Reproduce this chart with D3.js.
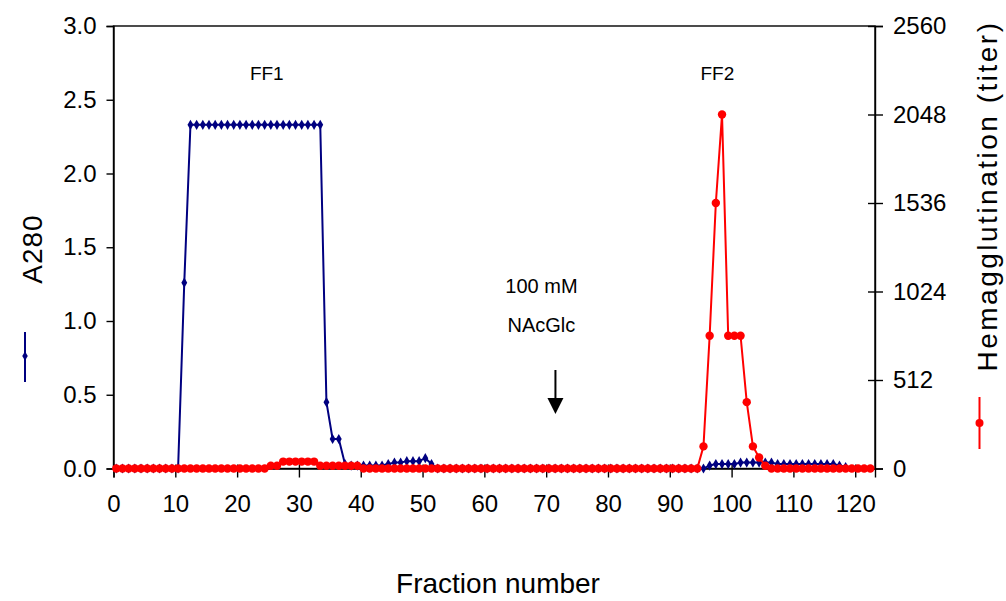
<!DOCTYPE html>
<html>
<head>
<meta charset="utf-8">
<script src="https://cdn.jsdelivr.net/npm/d3@7"></script>
<style>
  html, body { margin: 0; padding: 0; background: #fff; }
  svg { display: block; font-family: "Liberation Sans", Arial, sans-serif; }
</style>
</head>
<body>
<svg id="chart" width="1006" height="601"></svg>
<script>
// Absorbance at 280 nm, one value per fraction starting at fraction 0
const a280 = [
  0, 0, 0, 0, 0, 0, 0, 0, 0, 0,            // 0-9
  0, 1.26, 2.33, 2.33, 2.33, 2.33, 2.33, 2.33, 2.33, 2.33,   // 10-19
  2.33, 2.33, 2.33, 2.33, 2.33, 2.33, 2.33, 2.33, 2.33, 2.33, // 20-29
  2.33, 2.33, 2.33, 2.33, 0.45, 0.2, 0.2, 0.03, 0.02, 0.02,  // 30-39
  0.02, 0.02, 0.02, 0.02, 0.03, 0.04, 0.04, 0.05, 0.05, 0.05, // 40-49
  0.07, 0.03, 0, 0, 0, 0, 0, 0, 0, 0,      // 50-59
  0, 0, 0, 0, 0, 0, 0, 0, 0, 0,            // 60-69
  0, 0, 0, 0, 0, 0, 0, 0, 0, 0,            // 70-79
  0, 0, 0, 0, 0, 0, 0, 0, 0, 0,            // 80-89
  0, 0, 0, 0, 0, 0, 0.02, 0.03, 0.03, 0.03, // 90-99
  0.03, 0.04, 0.04, 0.04, 0.04, 0.04, 0.04, 0.03, 0.03, 0.03, // 100-109
  0.03, 0.03, 0.03, 0.03, 0.03, 0.03, 0.03, 0.02, 0.01        // 110-118
];

// Hemagglutination titer, one value per fraction starting at fraction 0
const titer = [
  0, 0, 0, 0, 0, 0, 0, 0, 0, 0,            // 0-9
  0, 0, 0, 0, 0, 0, 0, 0, 0, 0,            // 10-19
  0, 0, 0, 0, 0, 16, 16, 40, 40, 40,       // 20-29
  40, 40, 40, 16, 16, 16, 16, 16, 16, 16,  // 30-39
  0, 0, 0, 0, 0, 0, 0, 0, 0, 0,            // 40-49
  0, 0, 0, 0, 0, 0, 0, 0, 0, 0,            // 50-59
  0, 0, 0, 0, 0, 0, 0, 0, 0, 0,            // 60-69
  0, 0, 0, 0, 0, 0, 0, 0, 0, 0,            // 70-79
  0, 0, 0, 0, 0, 0, 0, 0, 0, 0,            // 80-89
  0, 0, 0, 0, 0, 128, 768, 1536, 2048, 768, // 90-99
  768, 768, 384, 128, 64, 16, 0, 0, 0, 0,  // 100-109
  0, 0, 0, 0, 0, 0, 0, 0, 0, 0,            // 110-119
  0, 0, 0                                  // 120-122
];

// Each sample is plotted a little past the start of its fraction
const sampleOffset = 0.45;

const xTicks = [0, 10, 20, 30, 40, 50, 60, 70, 80, 90, 100, 110, 120];
const leftTicks = [0, 0.5, 1.0, 1.5, 2.0, 2.5, 3.0];
const rightTicks = [0, 512, 1024, 1536, 2048, 2560];

const peakLabels = [
  { text: "FF1", fraction: 24.8 },
  { text: "FF2", fraction: 97.7 }
];
const elutionFraction = 71.5;
const elutionText = ["100 mM", "NAcGlc"];

const blue = "#000080";
const red = "#ff0000";

const svg = d3.select("#chart");

const x = d3.scaleLinear().domain([0, 123.2]).range([113.5, 875]);
const yL = d3.scaleLinear().domain([0, 3]).range([468.5, 26]);
const yR = d3.scaleLinear().domain([0, 2560]).range([468.5, 26]);
const fx = i => x(i + sampleOffset);

// Plot frame
svg.append("rect")
  .attr("x", x.range()[0]).attr("y", yL.range()[1])
  .attr("width", x.range()[1] - x.range()[0])
  .attr("height", yL.range()[0] - yL.range()[1])
  .attr("fill", "none").attr("stroke", "#000").attr("stroke-width", 1.4);

// Axes
const xAxis = svg.append("g")
  .attr("transform", `translate(0,${yL.range()[0]})`)
  .call(d3.axisBottom(x).tickValues(xTicks).tickSize(9).tickPadding(17).tickFormat(d3.format("d")));
xAxis.selectAll(".tick line").attr("y1", -4);

const leftAxis = svg.append("g")
  .attr("transform", `translate(${x.range()[0]},0)`)
  .call(d3.axisLeft(yL).tickValues(leftTicks).tickSize(7).tickPadding(10).tickFormat(d3.format(".1f")));

const rightAxis = svg.append("g")
  .attr("transform", `translate(${x.range()[1]},0)`)
  .call(d3.axisRight(yR).tickValues(rightTicks).tickSize(8).tickPadding(10).tickFormat(d3.format("d")));
rightAxis.selectAll(".tick line").attr("x1", -7);

[xAxis, leftAxis, rightAxis].forEach(g => {
  g.select(".domain").attr("stroke", "#000").attr("stroke-width", 1.4);
  g.selectAll(".tick line").attr("stroke", "#000").attr("stroke-width", 1.4);
  g.selectAll(".tick text")
    .attr("fill", "#000")
    .style("font-family", "'Liberation Sans', Arial, sans-serif")
    .style("font-size", "24px");
});

// A280 trace
const blueLine = d3.line().x((d, i) => fx(i)).y(d => yL(d));
svg.append("path").datum(a280)
  .attr("d", blueLine)
  .attr("fill", "none").attr("stroke", blue).attr("stroke-width", 2)
  .attr("stroke-linejoin", "round");
svg.append("g").selectAll("path").data(a280).join("path")
  .attr("transform", (d, i) => `translate(${fx(i)},${yL(d)})`)
  .attr("d", d3.symbol(d3.symbolDiamond, 30))
  .attr("fill", blue);

// Hemagglutination trace
const redLine = d3.line().x((d, i) => fx(i)).y(d => yR(d));
svg.append("path").datum(titer)
  .attr("d", redLine)
  .attr("fill", "none").attr("stroke", red).attr("stroke-width", 2)
  .attr("stroke-linejoin", "round");
svg.append("g").selectAll("circle").data(titer).join("circle")
  .attr("cx", (d, i) => fx(i)).attr("cy", d => yR(d))
  .attr("r", 4.2).attr("fill", red);

// Peak labels
svg.append("g").selectAll("text").data(peakLabels).join("text")
  .attr("x", d => x(d.fraction)).attr("y", 80)
  .attr("text-anchor", "middle")
  .style("font-size", "19px")
  .text(d => d.text);

// Elution step marker
const ex = x(elutionFraction);
svg.append("g").selectAll("text").data(elutionText).join("text")
  .attr("x", ex - 14).attr("y", (d, i) => 292.5 + i * 39)
  .attr("text-anchor", "middle")
  .style("font-size", "20px")
  .text(d => d);
svg.append("line")
  .attr("x1", ex).attr("x2", ex).attr("y1", 370).attr("y2", 400)
  .attr("stroke", "#000").attr("stroke-width", 2);
svg.append("path")
  .attr("d", `M${ex - 8},398 L${ex + 8},398 L${ex},414 Z`)
  .attr("fill", "#000");

// Axis titles
svg.append("text")
  .attr("transform", "translate(42,249) rotate(-90)")
  .attr("text-anchor", "middle")
  .style("font-size", "28px").style("letter-spacing", "1px")
  .text("A280");
svg.append("text")
  .attr("transform", "translate(997,196) rotate(-90)")
  .attr("text-anchor", "middle")
  .style("font-size", "28px").style("letter-spacing", "2.5px")
  .text("Hemagglutination (titer)");
svg.append("text")
  .attr("x", 498).attr("y", 593)
  .attr("text-anchor", "middle")
  .style("font-size", "28px")
  .text("Fraction number");

// Series keys beside the axis titles
const keyL = svg.append("g").attr("transform", "translate(25,356)");
keyL.append("line").attr("y1", -24).attr("y2", 26)
  .attr("stroke", blue).attr("stroke-width", 2);
keyL.append("path").attr("d", d3.symbol(d3.symbolDiamond, 26)).attr("fill", blue);

const keyR = svg.append("g").attr("transform", "translate(979.5,423)");
keyR.append("line").attr("y1", -26).attr("y2", 26)
  .attr("stroke", red).attr("stroke-width", 2);
keyR.append("circle").attr("r", 4).attr("fill", red);
</script>
</body>
</html>
